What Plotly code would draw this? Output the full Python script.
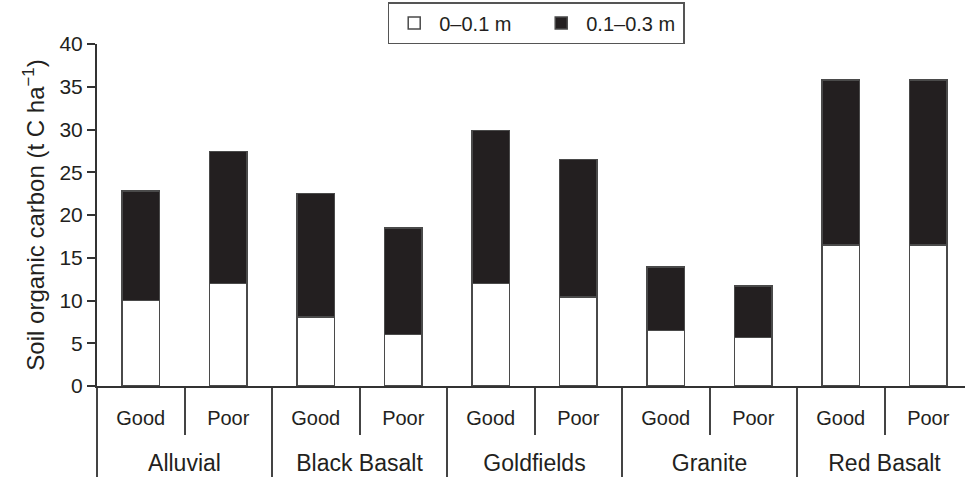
import plotly.graph_objects as go

groups = ["Alluvial", "Black Basalt", "Goldfields", "Granite", "Red Basalt"]
conditions = ["Good", "Poor"]
shallow = [10.0, 12.0, 8.1, 6.0, 12.0, 10.4, 6.5, 5.7, 16.5, 16.5]   # 0–0.1 m
deep = [12.8, 15.4, 14.4, 12.5, 17.9, 16.1, 7.4, 6.0, 19.3, 19.3]     # 0.1–0.3 m
y_ticks = [0, 5, 10, 15, 20, 25, 30, 35, 40]

group_labels = ['<br><span style="font-size:23px">%s</span>' % g for g in groups]
cond_labels = ['<span style="font-size:20px">%s</span>' % c for c in conditions]
x_groups = [g for g in group_labels for _ in conditions]
x_conds = [c for _ in groups for c in cond_labels]

FONT = "Liberation Sans, Arial, sans-serif"
TXT = "#231f20"
EDGE = "#4a4a4a"

fig = go.Figure()
fig.add_trace(go.Bar(
    x=[x_groups, x_conds], y=shallow, name="0–0.1 m",
    marker=dict(color="white", line=dict(color=EDGE, width=1.5)),
))
fig.add_trace(go.Bar(
    x=[x_groups, x_conds], y=deep, name="0.1–0.3 m",
    marker=dict(color="#231f20", line=dict(color=EDGE, width=1.5)),
))

fig.update_layout(
    barmode="stack",
    bargap=0.57,
    width=965, height=477,
    margin=dict(l=97, r=0, t=44, b=91, autoexpand=False),
    paper_bgcolor="white", plot_bgcolor="white",
    font=dict(family=FONT, color=TXT, size=20),
    showlegend=True,
    legend=dict(
        orientation="h", x=0.506, xanchor="center", y=1.0, yanchor="bottom",
        yref="paper", bordercolor="#555", borderwidth=1.5,
        font=dict(size=20, color=TXT), itemwidth=40,
        entrywidth=92, traceorder="normal",
    ),
)
fig.update_yaxes(
    range=[0, 40], tickvals=y_ticks, showgrid=False, zeroline=False,
    showline=True, linecolor="#333", linewidth=2, automargin=False,
    ticks="outside", ticklen=8, tickcolor="#333", tickwidth=2,
    tickfont=dict(size=21, color=TXT),
    title=dict(text="Soil organic carbon (t C ha<sup>−1</sup>)", font=dict(size=24, color=TXT), standoff=8),
)
fig.update_xaxes(
    type="multicategory", range=[-0.5, 9.42], automargin=False,
    showgrid=False, zeroline=False,
    showline=True, linecolor="#333", linewidth=2,
    ticks="outside", tickson="boundaries", ticklen=47, tickcolor="#444", tickwidth=2,
    ticklabelstandoff=9,
    tickfont=dict(size=23.5, color=TXT),
    showdividers=True, dividercolor="#444", dividerwidth=2,
)

fig.write_html(
    "out.html",
    config={"displayModeBar": False},
    post_script="document.body.style.margin='0';document.body.style.overflow='hidden';",
)
